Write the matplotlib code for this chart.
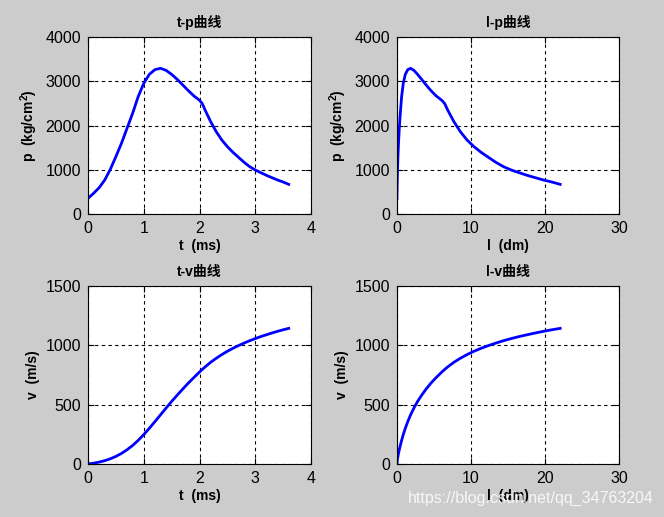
import numpy as np
import matplotlib
matplotlib.use('Agg')
import matplotlib.pyplot as plt

plt.rcParams['font.family'] = ['Liberation Sans', 'Noto Sans CJK SC']
plt.rcParams['mathtext.fontset'] = 'custom'
plt.rcParams['mathtext.rm'] = 'Liberation Sans'
plt.rcParams['mathtext.bf'] = 'Liberation Sans:bold'

# values (t in ms, p in kg/cm^2, v in m/s, l in dm)
t = [0, 0.1, 0.2, 0.3, 0.4, 0.5, 0.6, 0.7, 0.8, 0.9, 1.0, 1.1, 1.2, 1.3, 1.4, 1.5, 1.6, 1.7, 1.8, 1.9,
     2.0, 2.05, 2.1, 2.2, 2.3, 2.4, 2.5, 2.6, 2.7, 2.8, 2.9, 3.0, 3.1, 3.2, 3.3, 3.4, 3.5, 3.6]
p = [354, 467, 595, 768, 1009, 1296, 1597, 1936, 2275, 2652, 2953, 3156, 3262, 3292, 3247, 3156, 3043, 2915, 2787, 2667,
     2570, 2495, 2350, 2087, 1861, 1672, 1522, 1394, 1281, 1168, 1070, 994, 934, 874, 821, 768, 723, 670]
v = [0, 7, 16, 28, 44, 64, 89, 120, 156, 199, 248, 301, 357, 414, 471, 527, 580, 632, 682, 729,
     775, 797, 818, 857, 891, 922, 950, 975, 998, 1019, 1039, 1057, 1074, 1089, 1104, 1118, 1131, 1143]
l = [0, 0.004, 0.015, 0.037, 0.073, 0.127, 0.204, 0.308, 0.446, 0.624, 0.847, 1.122, 1.451, 1.836, 2.279,
     2.778, 3.331, 3.937, 4.594, 5.3, 6.052, 6.445, 6.848, 7.686, 8.56, 9.466, 10.402, 11.365, 12.351,
     13.36, 14.389, 15.437, 16.502, 17.584, 18.68, 19.791, 20.916, 22.05]

fig = plt.figure(figsize=(6.64, 5.17), dpi=100, facecolor='#cccccc')

W, H = 664, 517
def box(x0, y0, x1, y1):
    return [x0 / W, 1 - y1 / H, (x1 - x0) / W, (y1 - y0) / H]

panels = [
    (box(88, 37, 311, 214), t, p, 't-p曲线', 't  (ms)', r'p  (kg/cm$^{\mathbf{2}}$)', [0, 4], [0, 4000], [0, 1, 2, 3, 4], [0, 1000, 2000, 3000, 4000]),
    (box(397, 37, 619, 214), l, p, 'l-p曲线', 'l  (dm)', r'p  (kg/cm$^{\mathbf{2}}$)', [0, 30], [0, 4000], [0, 10, 20, 30], [0, 1000, 2000, 3000, 4000]),
    (box(88, 286, 311, 464), t, v, 't-v曲线', 't  (ms)', 'v  (m/s)', [0, 4], [0, 1500], [0, 1, 2, 3, 4], [0, 500, 1000, 1500]),
    (box(397, 286, 619, 464), l, v, 'l-v曲线', 'l  (dm)', 'v  (m/s)', [0, 30], [0, 1500], [0, 10, 20, 30], [0, 500, 1000, 1500]),
]

for rect, x, y, title, xl, yl, xlim, ylim, xt, yt in panels:
    ax = fig.add_axes(rect)
    ax.plot(x, y, color='#0000ff', lw=2)
    ax.set_xlim(xlim)
    ax.set_ylim(ylim)
    ax.set_xticks(xt)
    ax.set_yticks(yt)
    ax.grid(True, color='black', linestyle=(0, (3, 3)), linewidth=0.8)
    ax.tick_params(direction='in', top=True, right=True, labelsize=11.5, length=4, width=0.8, pad=5)
    for s in ax.spines.values():
        s.set_linewidth(0.8)
    ax.set_title(title, fontsize=10, fontweight='bold', pad=7)
    ax.set_xlabel(xl, fontsize=10, fontweight='bold', labelpad=2)
    ax.set_ylabel(yl, fontsize=10, fontweight='bold', labelpad=4)

fig.text(0.985, 0.036, 'https://blog.csdn.net/qq_34763204', color='white', alpha=0.85,
         fontsize=11.5, ha='right', va='center')

fig.savefig('out.png', dpi=100, facecolor=fig.get_facecolor())
